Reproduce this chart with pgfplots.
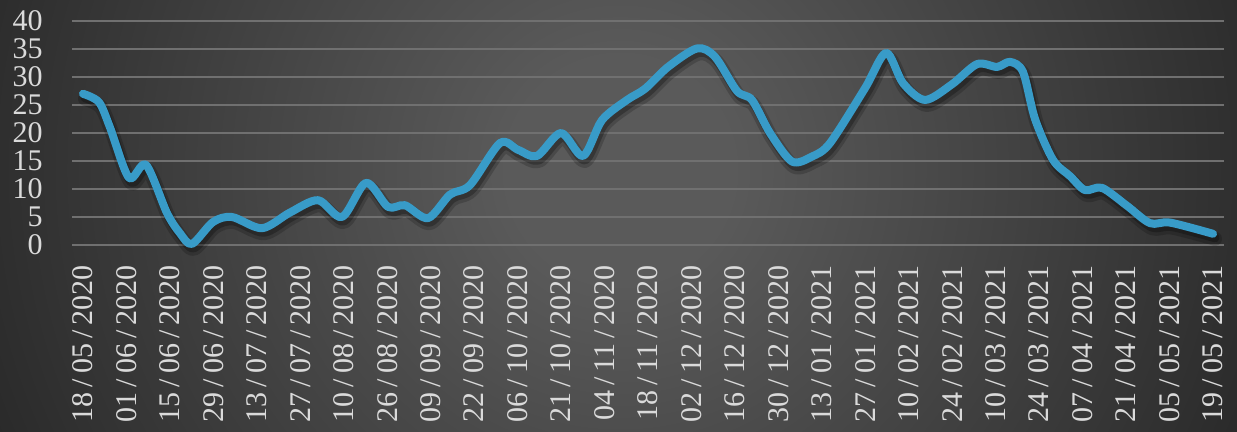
\documentclass[border=0pt]{standalone}
\usepackage{fontspec}
\setmainfont{Liberation Serif}
\usepackage{pgfplots}
\pgfplotsset{compat=1.18}

\definecolor{bgin}{RGB}{90,90,90}
\definecolor{bgout}{RGB}{40,40,40}
\definecolor{bgfar}{RGB}{30,30,30}
\definecolor{gridc}{RGB}{112,112,112}
\definecolor{lineblue}{RGB}{56,155,200}
\definecolor{labelc}{RGB}{218,218,218}

\pgfdeclareradialshading{bgshade}{\pgfpointorigin}{%
  color(0bp)=(bgin); color(4bp)=(bgin); color(25bp)=(bgout); color(50bp)=(bgfar)}

% weekly values, x in units of the two-week labels
\pgfplotstableread{
x      y
0      27.0
0.368  25.5
0.621  21.0
1.058  12.0
1.450  14.3
1.933  5.7
2.232  2.1
2.508  0.2
2.991  4.1
3.428  5.0
4.119  3.0
4.763  5.8
5.407  8.0
5.960  5.0
6.512  11.1
7.018  6.8
7.409  7.1
7.938  4.8
8.445  9.0
8.905  10.7
9.595  18.2
10.009 17.0
10.446 15.9
10.999 20.0
11.505 15.9
11.942 22.3
12.517 25.9
12.932 27.9
13.461 31.8
14.128 35.1
14.542 33.6
15.048 27.5
15.393 25.9
15.808 20.0
16.314 14.9
16.774 15.8
17.188 18.2
17.993 28.0
18.477 34.3
18.868 28.9
19.374 25.9
19.995 28.7
20.571 32.3
21.031 31.8
21.330 32.7
21.629 30.9
21.905 22.5
22.319 15.2
22.711 12.3
23.056 9.8
23.447 10.2
24.022 7.0
24.551 3.9
25.012 4.0
26     2.0
}\datatable

\begin{document}
\begin{tikzpicture}
% background
\begin{scope}
\clip (-36pt,-93.5pt) rectangle (582.5pt,122.5pt);
\shade[shading=bgshade] (274pt,37.5pt) circle (350pt);
\end{scope}
\begin{axis}[
  scale only axis,
  width=576pt, height=112pt,
  xmin=-0.253, xmax=26.253,
  ymin=0, ymax=40,
  ytick={0,5,...,40},
  xtick={0,...,26},
  xticklabels={18\,/\,05\,/\,2020,01\,/\,06\,/\,2020,15\,/\,06\,/\,2020,29\,/\,06\,/\,2020,13\,/\,07\,/\,2020,27\,/\,07\,/\,2020,10\,/\,08\,/\,2020,26\,/\,08\,/\,2020,09\,/\,09\,/\,2020,22\,/\,09\,/\,2020,06\,/\,10\,/\,2020,21\,/\,10\,/\,2020,04\,/\,11\,/\,2020,18\,/\,11\,/\,2020,02\,/\,12\,/\,2020,16\,/\,12\,/\,2020,30\,/\,12\,/\,2020,13\,/\,01\,/\,2021,27\,/\,01\,/\,2021,10\,/\,02\,/\,2021,24\,/\,02\,/\,2021,10\,/\,03\,/\,2021,24\,/\,03\,/\,2021,07\,/\,04\,/\,2021,21\,/\,04\,/\,2021,05\,/\,05\,/\,2021,19\,/\,05\,/\,2021},
  axis line style={draw=none},
  major tick length=0pt,
  ymajorgrids,
  grid style={gridc, line width=0.75pt},
  /pgf/number format/assume math mode=true,
  ticklabel style={text=labelc, font=\fontsize{15}{15}\selectfont, inner sep=0pt},
  xticklabel style={rotate=90, anchor=east, yshift=0pt},
  xticklabel shift=10pt,
  yticklabel style={anchor=east},
  yticklabel shift=14.5pt,
  clip=false,
]
\addplot[black, opacity=0.18, line width=7pt, smooth, tension=0.5, line cap=round, line join=round,
  transform canvas={xshift=1pt, yshift=-2.5pt}] table[x=x, y=y] {\datatable};
\addplot[black, opacity=0.25, line width=4.5pt, smooth, tension=0.5, line cap=round, line join=round,
  transform canvas={xshift=1pt, yshift=-2pt}] table[x=x, y=y] {\datatable};
\addplot[lineblue, line width=4pt, smooth, tension=0.5, line cap=round, line join=round] table[x=x, y=y] {\datatable};
\end{axis}
\pgfresetboundingbox
\useasboundingbox (-36pt,-93.5pt) rectangle (582.5pt,122.5pt);
\end{tikzpicture}
\end{document}
